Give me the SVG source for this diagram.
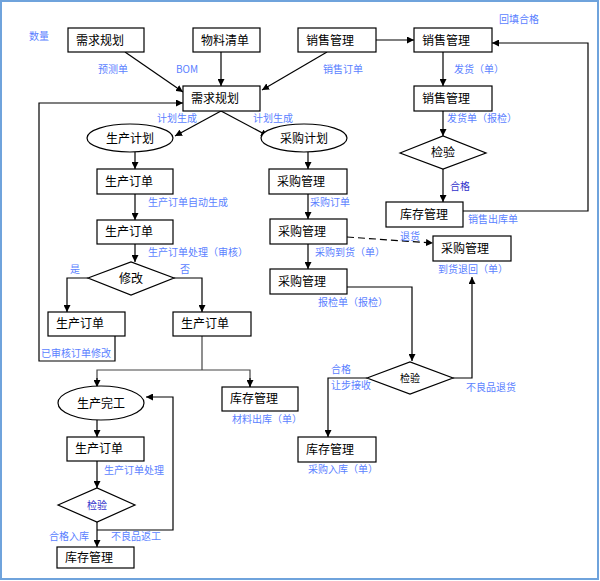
<svg xmlns="http://www.w3.org/2000/svg" width="600" height="581" viewBox="0 0 600 581">
<defs>
<marker id="ah" viewBox="0 0 10 10" refX="10" refY="5" markerWidth="7" markerHeight="7" orient="auto" markerUnits="userSpaceOnUse"><path d="M0,0 L10,5 L0,10 z" fill="#000"/></marker>
<style>
.b{fill:#fff;stroke:#000;stroke-width:1.2}
.t{font-family:"Noto Sans CJK SC","Liberation Serif",serif;font-size:12px;fill:#000}
.tc{font-family:"Noto Sans CJK SC","Liberation Serif",serif;font-size:12px;fill:#000;text-anchor:middle}
.l{font-family:"Noto Sans CJK SC","Liberation Serif",serif;font-size:10px;fill:#5b7fff}
.d{font-family:"Noto Sans CJK SC","Liberation Serif",serif;font-size:10px;fill:#3333cc}
.c{fill:none;stroke:#000;stroke-width:1.2}
.g{fill:none;stroke:#444;stroke-width:1.2}
</style>
</defs>
<rect x="0" y="0" width="600" height="581" fill="#fff"/>
<rect x="1" y="1" width="597" height="578" fill="none" stroke="#6fa3dc" stroke-width="2"/>

<g id="connectors">
<line class="c" x1="125" y1="52" x2="183" y2="92" marker-end="url(#ah)"/>
<line class="c" x1="221" y1="52" x2="221" y2="86" marker-end="url(#ah)"/>
<line class="c" x1="327" y1="52" x2="262" y2="90" marker-end="url(#ah)"/>
<line class="c" x1="376" y1="40" x2="414" y2="40" marker-end="url(#ah)"/>
<line class="c" x1="221" y1="111" x2="175" y2="136" marker-end="url(#ah)"/>
<line class="c" x1="221" y1="111" x2="268" y2="136" marker-end="url(#ah)"/>
<line class="c" x1="135" y1="152" x2="135" y2="169" marker-end="url(#ah)"/>
<line class="c" x1="135" y1="194" x2="135" y2="220" marker-end="url(#ah)"/>
<line class="c" x1="135" y1="244" x2="135" y2="262" marker-end="url(#ah)"/>
<polyline class="c" points="88,278 67,278 67,312" marker-end="url(#ah)"/>
<polyline class="c" points="174,278 202,278 202,312" marker-end="url(#ah)"/>
<polyline class="c" points="115,336 115,361 39,361 39,103 183,103" marker-end="url(#ah)"/>
<line class="g" x1="202" y1="336" x2="202" y2="370"/>
<polyline class="g" points="97,387 97,370 250,370 250,387"/>
<line class="c" x1="97" y1="378" x2="97" y2="387" marker-end="url(#ah)"/>
<line class="c" x1="250" y1="378" x2="250" y2="387" marker-end="url(#ah)"/>
<line class="c" x1="97" y1="420" x2="97" y2="437" marker-end="url(#ah)"/>
<line class="c" x1="97" y1="461" x2="97" y2="488" marker-end="url(#ah)"/>
<line class="c" x1="97" y1="522" x2="97" y2="547" marker-end="url(#ah)"/>
<polyline class="c" points="97,530 173,530 173,397 146,397" marker-end="url(#ah)"/>
<line class="c" x1="308" y1="152" x2="308" y2="169" marker-end="url(#ah)"/>
<line class="c" x1="308" y1="194" x2="308" y2="219" marker-end="url(#ah)"/>
<line class="c" x1="308" y1="244" x2="308" y2="269" marker-end="url(#ah)"/>
<line class="c" x1="347" y1="237" x2="433" y2="243" stroke-dasharray="7,4" marker-end="url(#ah)"/>
<polyline class="c" points="347,287 412,287 412,361" marker-end="url(#ah)"/>
<polyline class="c" points="453,378 472,378 472,277" marker-end="url(#ah)"/>
<polyline class="c" points="367,378 328,378 328,437" marker-end="url(#ah)"/>
<line class="c" x1="443" y1="52" x2="443" y2="86" marker-end="url(#ah)"/>
<line class="c" x1="443" y1="111" x2="443" y2="136" marker-end="url(#ah)"/>
<line class="c" x1="443" y1="169" x2="443" y2="202" marker-end="url(#ah)"/>
<polyline class="c" points="463,211 588,211 588,43 492,43" marker-end="url(#ah)"/>
</g>

<g id="n-xqgh1"><rect class="b" x="68" y="28" width="76" height="24"/><text class="t" x="76" y="45">需求规划</text></g>
<g id="n-wlqd"><rect class="b" x="193" y="28" width="67" height="24"/><text class="t" x="201" y="45">物料清单</text></g>
<g id="n-xsgl1"><rect class="b" x="298" y="28" width="78" height="24"/><text class="t" x="306" y="45">销售管理</text></g>
<g id="n-xsgl2"><rect class="b" x="414" y="28" width="78" height="24"/><text class="t" x="422" y="45">销售管理</text></g>
<g id="n-xqgh2"><rect class="b" x="183" y="86" width="77" height="25"/><text class="t" x="191" y="103">需求规划</text></g>
<g id="n-xsgl3"><rect class="b" x="414" y="86" width="78" height="25"/><text class="t" x="422" y="103">销售管理</text></g>
<g id="n-scjh"><ellipse class="b" cx="130" cy="138" rx="43" ry="14"/><text class="tc" x="130" y="143">生产计划</text></g>
<g id="n-cgjh"><ellipse class="b" cx="304" cy="138" rx="43" ry="14"/><text class="tc" x="304" y="143">采购计划</text></g>
<g id="n-jy1"><polygon class="b" points="400,153 443,136 486,153 443,169"/><text class="tc" x="443" y="157">检验</text></g>
<g id="n-scdd1"><rect class="b" x="97" y="169" width="76" height="25"/><text class="t" x="105" y="186">生产订单</text></g>
<g id="n-cggl1"><rect class="b" x="269" y="169" width="78" height="25"/><text class="t" x="277" y="186">采购管理</text></g>
<g id="n-kcgl1"><rect class="b" x="386" y="202" width="77" height="25"/><text class="t" x="400" y="219">库存管理</text></g>
<g id="n-scdd2"><rect class="b" x="97" y="220" width="76" height="24"/><text class="t" x="105" y="236">生产订单</text></g>
<g id="n-cggl2"><rect class="b" x="270" y="219" width="77" height="25"/><text class="t" x="278" y="236">采购管理</text></g>
<g id="n-cggl4"><rect class="b" x="433" y="236" width="78" height="25"/><text class="t" x="441" y="253">采购管理</text></g>
<g id="n-xg"><polygon class="b" points="88,278 131,262 174,278 131,295"/><text class="tc" x="131" y="283">修改</text></g>
<g id="n-cggl3"><rect class="b" x="270" y="269" width="77" height="25"/><text class="t" x="278" y="286">采购管理</text></g>
<g id="n-scdd3"><rect class="b" x="48" y="312" width="77" height="24"/><text class="t" x="56" y="328">生产订单</text></g>
<g id="n-scdd4"><rect class="b" x="173" y="312" width="78" height="24"/><text class="t" x="181" y="328">生产订单</text></g>
<g id="n-jy2"><polygon class="b" points="367,378 410,362 453,378 410,394"/><text class="tc" x="410" y="382" style="font-size:10px">检验</text></g>
<g id="n-scwg"><ellipse class="b" cx="101" cy="403" rx="43" ry="17"/><text class="tc" x="101" y="408">生产完工</text></g>
<g id="n-kcgl2"><rect class="b" x="222" y="387" width="76" height="24"/><text class="t" x="230" y="403">库存管理</text></g>
<g id="n-scdd5"><rect class="b" x="67" y="437" width="77" height="24"/><text class="t" x="75" y="453">生产订单</text></g>
<g id="n-kcgl3"><rect class="b" x="298" y="437" width="78" height="25"/><text class="t" x="306" y="454">库存管理</text></g>
<g id="n-jy3"><polygon class="b" points="58,505 97,488 135,505 97,522"/><text class="d" x="97" y="509" text-anchor="middle">检验</text></g>
<g id="n-kcgl4"><rect class="b" x="57" y="547" width="77" height="21"/><text class="t" x="65" y="562">库存管理</text></g>

<g id="labels">
<text class="l" x="29" y="40">数量</text>
<text class="l" x="499" y="23">回填合格</text>
<text class="l" x="98" y="73">预测单</text>
<text class="l" x="176" y="73">BOM</text>
<text class="l" x="323" y="73">销售订单</text>
<text class="l" x="454" y="73">发货（单）</text>
<text class="l" x="157" y="122">计划生成</text>
<text class="l" x="253" y="122">计划生成</text>
<text class="l" x="447" y="122">发货单（报检）</text>
<text class="d" x="450" y="190">合格</text>
<text class="l" x="148" y="206">生产订单自动生成</text>
<text class="l" x="310" y="206">采购订单</text>
<text class="l" x="468" y="223">销售出库单</text>
<text class="l" x="400" y="240">退货</text>
<text class="l" x="148" y="256">生产订单处理（审核）</text>
<text class="l" x="315" y="256">采购到货（单）</text>
<text class="l" x="70" y="273">是</text>
<text class="l" x="180" y="273">否</text>
<text class="l" x="438" y="273">到货退回（单）</text>
<text class="l" x="318" y="306">报检单（报检）</text>
<text class="l" x="41" y="357">已审核订单修改</text>
<text class="l" x="331" y="373">合格</text>
<text class="l" x="331" y="389">让步接收</text>
<text class="l" x="466" y="391">不良品退货</text>
<text class="l" x="232" y="423">材料出库（单）</text>
<text class="l" x="104" y="474">生产订单处理</text>
<text class="l" x="308" y="473">采购入库（单）</text>
<text class="l" x="49" y="540">合格入库</text>
<text class="l" x="111" y="540">不良品返工</text>
</g>
</svg>
